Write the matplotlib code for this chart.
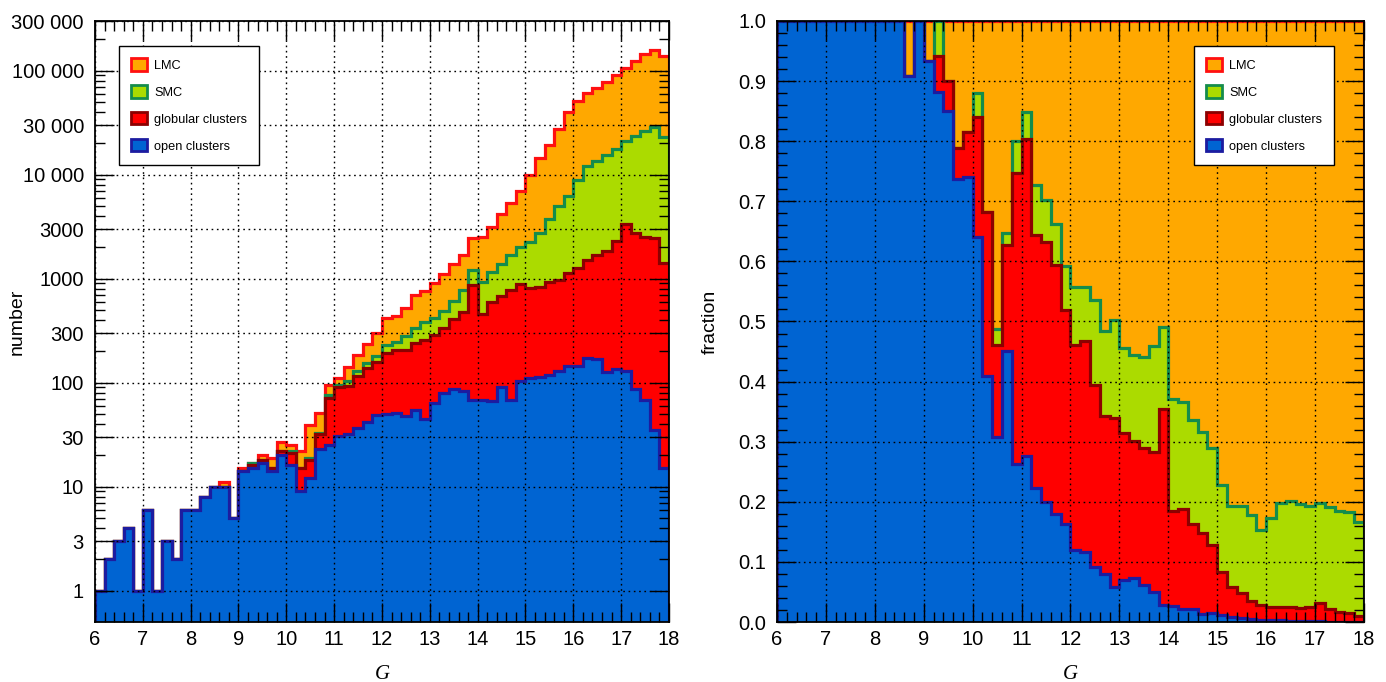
import numpy as np
import matplotlib
matplotlib.use("Agg")
import matplotlib.pyplot as plt
from matplotlib.patches import Patch
from matplotlib.ticker import FixedLocator, FixedFormatter, MultipleLocator, FormatStrFormatter

# ---------------- data (counts per 0.2 mag bin, G = 6 ... 18) ----------------
g_edges = np.round(np.arange(6.0, 18.0001, 0.2), 1)

n_open = [1, 2, 3, 4, 1, 6, 1, 3, 2, 6, 6, 8, 10, 10, 5,
          14, 15, 17, 14, 20, 16, 9, 12, 23, 25, 31, 32, 37, 42, 49,
          50, 51, 48, 55, 45, 64, 80, 86, 84, 68, 68, 66, 90, 68, 104,
          112, 113, 118, 130, 146, 145, 171, 167, 128, 134, 129, 86, 68, 35, 15]
n_glob = [0, 0, 0, 0, 0, 0, 0, 0, 0, 0, 0, 0, 0, 0, 0,
          0, 1, 1, 1, 2, 5, 6, 6, 9, 46, 59, 60, 80, 97, 108,
          142, 154, 159, 183, 215, 222, 252, 319, 396, 807, 390, 529, 586, 714, 794,
          710, 727, 814, 830, 984, 1115, 1342, 1523, 1730, 2184, 3228, 2647, 2432, 2415, 1391]
n_smc = [0, 0, 0, 0, 0, 0, 0, 0, 0, 0, 0, 0, 0, 0, 0,
         0, 1, 0, 0, 0, 1, 0, 1, 1, 5, 5, 12, 13, 16, 22,
         40, 39, 75, 98, 125, 129, 158, 210, 302, 338, 467, 565, 719, 893, 1122,
         1428, 1930, 2788, 3990, 5050, 7660, 10487, 11910, 13542, 15282, 17743, 20917, 24050, 26500, 21494]
n_lmc = [0, 0, 0, 0, 0, 0, 0, 0, 0, 0, 0, 0, 0, 1, 0,
         1, 0, 2, 4, 5, 3, 7, 20, 18, 19, 17, 39, 55, 79, 123,
         184, 194, 244, 358, 382, 495, 613, 780, 918, 1257, 1565, 2002, 2765, 3631, 4950,
         7610, 11610, 15580, 22750, 34220, 42580, 48700, 54200, 63000, 73300, 85900, 100350, 117450, 129050, 115100]

labels = ["LMC", "SMC", "globular clusters", "open clusters"]
y_ticks_left = [1, 3, 10, 30, 100, 300, 1000, 3000, 10000, 30000, 100000, 300000]
y_ticklabels_left = ["1", "3", "10", "30", "100", "300", "1000", "3000",
                     "10 000", "30 000", "100 000", "300 000"]

# ---------------- styling ----------------
fills = {"LMC": "#FFA800", "SMC": "#ABDB00", "globular clusters": "#FF0000", "open clusters": "#0064D2"}
edgec = {"LMC": "#FF1010", "SMC": "#148C4C", "globular clusters": "#8C0000", "open clusters": "#1C1CA0"}

plt.rcParams["font.family"] = ["Liberation Sans", "DejaVu Sans"]

o = np.array(n_open, float)
gl = np.array(n_glob, float)
sm = np.array(n_smc, float)
lm = np.array(n_lmc, float)
cum = {
    "open clusters": o,
    "globular clusters": o + gl,
    "SMC": o + gl + sm,
    "LMC": o + gl + sm + lm,
}
total = cum["LMC"]

fig = plt.figure(figsize=(13.86, 6.82), dpi=100)
axL = fig.add_axes([95 / 1386, 60 / 682, 574 / 1386, 601 / 682])
axR = fig.add_axes([777 / 1386, 60 / 682, 587 / 1386, 601 / 682])

dot = (0, (1.2, 2.6))


def draw_layers(ax, series, baseline):
    z = 1.0
    for name in labels:
        vals = series[name]
        ax.stairs(vals, g_edges, baseline=baseline, fill=True, color=fills[name],
                  lw=0, zorder=z)
        ax.stairs(vals, g_edges, baseline=baseline, fill=False, color=edgec[name],
                  lw=2.3, zorder=z + 0.05)
        z += 0.1


def style_axes(ax):
    ax.set_xlim(6, 18)
    ax.xaxis.set_major_locator(MultipleLocator(1))
    ax.xaxis.set_minor_locator(MultipleLocator(0.2))
    ax.tick_params(which="both", direction="in", top=True, right=True, labelsize=14.5)
    ax.tick_params(which="major", length=14, width=1.0)
    ax.tick_params(which="minor", length=7, width=1.0)
    ax.tick_params(axis="x", pad=6)
    ax.tick_params(axis="y", pad=8)
    ax.set_axisbelow(False)
    ax.grid(True, which="major", color="black", lw=1.0, ls=dot)
    for s in ax.spines.values():
        s.set_linewidth(1.3)
        s.set_zorder(3)
    ax.set_xlabel("G", family="Liberation Serif", style="italic", fontsize=15, labelpad=11)


def add_legend(ax, x0):
    handles = [Patch(facecolor=fills[n], edgecolor=edgec[n], lw=2) for n in labels]
    leg = ax.legend(handles, labels, loc="upper left", bbox_to_anchor=(x0, 0.958),
                    fontsize=9.2, frameon=True, fancybox=False, framealpha=1,
                    edgecolor="black", handlelength=1.25, handleheight=1.1,
                    handletextpad=0.55, labelspacing=1.05, borderpad=0.95,
                    borderaxespad=0)
    leg.get_frame().set_linewidth(1.0)
    leg.set_zorder(10)


# ---------------- left panel: stacked counts ----------------
axL.set_yscale("log")
draw_layers(axL, cum, baseline=0.05)
axL.set_ylim(0.5, 300000)
style_axes(axL)
axL.yaxis.set_major_locator(FixedLocator(y_ticks_left))
axL.yaxis.set_major_formatter(FixedFormatter(y_ticklabels_left))
minor = [m * 10 ** e for e in range(0, 6) for m in (2, 4, 5, 6, 7, 8, 9)]
axL.yaxis.set_minor_locator(FixedLocator(minor))
axL.yaxis.set_minor_formatter(FixedFormatter([""] * len(minor)))
axL.set_ylabel("number", fontsize=14)
axL.yaxis.set_label_coords(-0.120, 0.5)
add_legend(axL, 0.0418)

# ---------------- right panel: fractions ----------------
frac = {k: v / total for k, v in cum.items()}
draw_layers(axR, frac, baseline=0.0)
axR.set_ylim(0, 1)
style_axes(axR)
axR.yaxis.set_major_locator(MultipleLocator(0.1))
axR.yaxis.set_minor_locator(MultipleLocator(0.02))
axR.yaxis.set_major_formatter(FormatStrFormatter("%.1f"))
axR.set_ylabel("fraction", fontsize=14)
axR.yaxis.set_label_coords(-0.099, 0.5)
add_legend(axR, 0.710)

fig.savefig("out.png", dpi=100)
